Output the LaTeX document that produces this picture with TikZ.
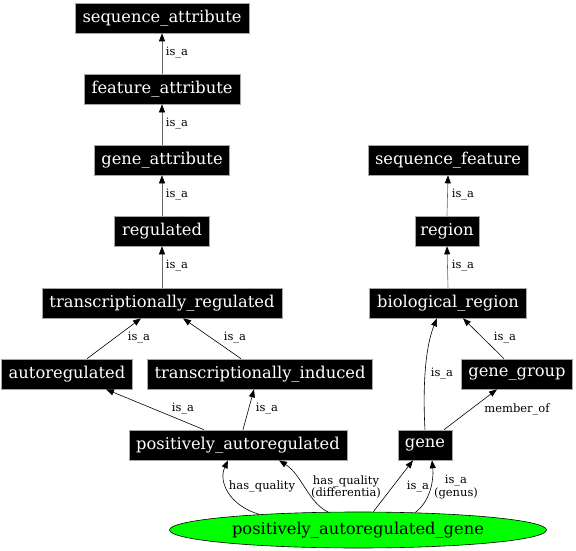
\documentclass[tikz,border=0pt]{standalone}
\usepackage{fontspec}
\setmainfont{DejaVu Serif}
\usetikzlibrary{arrows.meta,shapes.geometric}
\begin{document}
\begin{tikzpicture}[x=1pt,y=-1pt,
  box/.style={draw=gray!70,line width=0.6pt,fill=black,text=white,inner sep=0pt,minimum height=30pt,font=\fontsize{16.3}{18}\selectfont},
  lbl/.style={font=\fontsize{11.5}{12.5}\selectfont,align=center,inner sep=1pt},
  edge/.style={draw=black,line width=0.6pt,-{Triangle[length=8pt,width=6pt,color=black]}},
  vedge/.style={edge,draw=gray!80!black}]
\useasboundingbox (0,0) rectangle (576,551);
\node[box,minimum width=174pt] (sa) at (162,18) {sequence\_attribute};
\node[box,minimum width=156pt] (fa) at (162,89) {feature\_attribute};
\node[box,minimum width=135pt] (ga) at (162,160) {gene\_attribute};
\node[box,minimum width=95pt] (rg) at (162,231) {regulated};
\node[box,minimum width=240pt] (tr) at (162,303) {transcriptionally\_regulated};
\node[box,minimum width=131pt] (ar) at (67,374) {autoregulated};
\node[box,minimum width=225pt] (ti) at (260,374) {transcriptionally\_induced};
\node[box,minimum width=218pt] (pa) at (238,445) {positively\_autoregulated};
\node[box,minimum width=54pt] (gn) at (425,445) {gene};
\node[box,minimum width=111pt] (gg) at (517,374) {gene\_group};
\node[box,minimum width=157pt] (br) at (448,303) {biological\_region};
\node[box,minimum width=64pt] (rn) at (447,231) {region};
\node[box,minimum width=160pt] (sf) at (448,160) {sequence\_feature};
\node[ellipse,draw=black,line width=0.6pt,fill=green,inner sep=0pt,minimum width=377pt,minimum height=36pt,font=\fontsize{16.3}{18}\selectfont] (el) at (358,530) {positively\_autoregulated\_gene};

\draw[vedge] (fa.north) -- (sa.south);
\node[lbl] at (177,53) {is\_a};
\draw[vedge] (ga.north) -- (fa.south);
\node[lbl] at (177,124) {is\_a};
\draw[vedge] (rg.north) -- (ga.south);
\node[lbl] at (177,195) {is\_a};
\draw[vedge] (tr.north) -- (rg.south);
\node[lbl] at (177,266) {is\_a};

\draw[vedge] (rn.north) -- (sf.south);
\node[lbl] at (463,195) {is\_a};
\draw[vedge] (br.north) -- (rn.south);
\node[lbl] at (463,266) {is\_a};

\draw[edge] ([xshift=20pt]ar.north) -- ([xshift=-21pt]tr.south);
\node[lbl] at (139,338) {is\_a};
\draw[edge] ([xshift=-19pt]ti.north) -- ([xshift=21pt]tr.south);
\node[lbl] at (235,338) {is\_a};
\draw[edge] ([xshift=-34pt]pa.north) -- ([xshift=39pt]ar.south);
\node[lbl] at (183,409) {is\_a};
\draw[edge] ([xshift=5pt]pa.north) -- ([xshift=-6pt]ti.south);
\node[lbl] at (267,409) {is\_a};
\draw[edge] ([xshift=-13pt]gg.north) -- ([xshift=15pt]br.south);
\node[lbl] at (505,338) {is\_a};
\draw[edge] (gn.north) .. controls (423,395) and (424,350) .. ([xshift=-11pt]br.south);
\node[lbl] at (442,374) {is\_a};
\draw[edge] ([xshift=19pt]gn.north) -- ([xshift=-20pt]gg.south);
\node[lbl] at (517,409) {member\_of};

\draw[edge] (el.171) .. controls (230,506) and (218,482) .. ([xshift=-10pt]pa.south);
\node[lbl] at (262,486) {has\_quality};
\draw[edge] (el.149) .. controls (308,502) and (302,475) .. ([xshift=41pt]pa.south);
\node[lbl] at (346,487) {has\_quality\\(differentia)};
\draw[edge] (el.50) -- ([xshift=-12pt]gn.south);
\node[lbl] at (418,487) {is\_a};
\draw[edge] (el.17) .. controls (430,502) and (434,480) .. ([xshift=7pt]gn.south);
\node[lbl] at (456,487) {is\_a\\(genus)};
\end{tikzpicture}
\end{document}
